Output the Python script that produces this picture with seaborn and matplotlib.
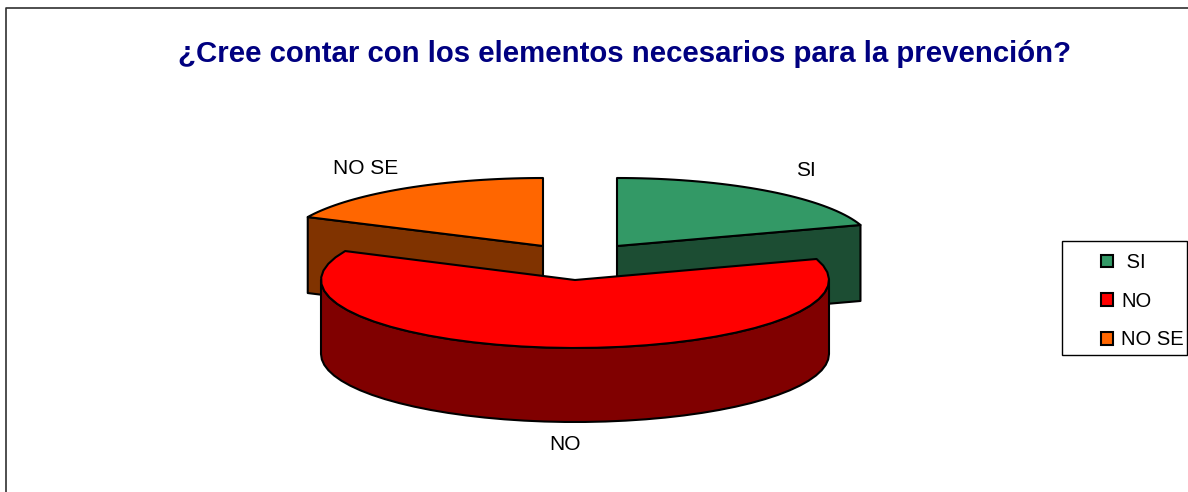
import numpy as np
import matplotlib
matplotlib.use('Agg')
import matplotlib.pyplot as plt
from matplotlib.patches import Patch, Rectangle
import seaborn as sns

# data (percent)
categories = ['SI', 'NO', 'NO SE']
shares = [20, 62, 18]
top_colors = ['#339966', '#ff0000', '#ff6600']
wall_colors = ['#1c4d33', '#800000', '#803300']

title = '¿Cree contar con los elementos necesarios para la prevención?'

# layout of the exploded slices, in pixels of the image
centers = {'SI': (617, 246), 'NO': (575, 280), 'NO SE': (543, 246)}
radius_x = {'SI': 256, 'NO': 254, 'NO SE': 260}
radius_y = 68
depth = {'SI': 76, 'NO': 74, 'NO SE': 76}
label_pos = {'SI': (806, 170), 'NO': (565, 445), 'NO SE': (366, 168)}

sns.set_theme(style='white')
plt.rcParams['font.family'] = ['Liberation Sans', 'DejaVu Sans']
plt.rcParams['text.color'] = 'black'


def rim(name, start, stop):
    """Points of the outer edge of a slice, angles clockwise from 12 o'clock"""
    t = np.radians(np.linspace(start, stop, 40))
    cx, cy = centers[name]
    return cx + radius_x[name] * np.sin(t), cy - radius_y * np.cos(t)


fig = plt.figure(figsize=(11.88, 4.92), dpi=100)
ax = fig.add_axes([0, 0, 1, 1])
ax.set_xlim(0, 1188)
ax.set_ylim(492, 0)
ax.axis('off')

# chart frame, it runs off the image on the right and at the bottom
ax.plot([6, 6, 1188], [492, 8, 8], color='#303030', lw=1.2)

stops = np.cumsum(shares) * 3.6
starts = stops - np.array(shares) * 3.6
edge = dict(edgecolor='black', linewidth=1.5, joinstyle='round')

# back slices first, the big one covers them
for i in [0, 2, 1]:
    name = categories[i]
    cx, cy = centers[name]
    d = depth[name]
    x, y = rim(name, starts[i], stops[i])
    if name == 'NO':
        # outer wall, only the part facing the viewer
        wx, wy = rim(name, 90, 270)
        ax.fill(np.r_[wx, wx[::-1]], np.r_[wy, wy[::-1] + d],
                facecolor=wall_colors[i], **edge)
    else:
        # cut wall of the slice
        j = -1 if name == 'SI' else 0
        ax.fill([cx, x[j], x[j], cx], [cy, y[j], y[j] + d, cy + d],
                facecolor=wall_colors[i], **edge)
    ax.fill(np.r_[cx, x], np.r_[cy, y], facecolor=top_colors[i], **edge)

for name in categories:
    ax.text(*label_pos[name], name, fontsize=15, ha='center', va='center',
            color='black')

ax.text(624.5, 54, title, fontsize=21.15, fontweight='bold', color='#000080',
        ha='center', va='center')

# legend box drawn apart, the entries sit far from its left side
ax.add_patch(Rectangle((1062, 241), 125, 114, facecolor='white', edgecolor='black',
                       linewidth=1, zorder=3))
handles = [Patch(facecolor=c, edgecolor='black', linewidth=1.5) for c in top_colors]
labels = [' SI', 'NO', 'NO SE']
leg = ax.legend(handles, labels, loc='upper left', bbox_to_anchor=(1101 / 1188, 1 - 253 / 492),
                fontsize=14.5, frameon=False, handlelength=0.6, handleheight=0.6,
                handletextpad=0.4, labelspacing=0.98, borderpad=0, borderaxespad=0)
leg.set_zorder(4)

fig.savefig('out.png', dpi=100)
